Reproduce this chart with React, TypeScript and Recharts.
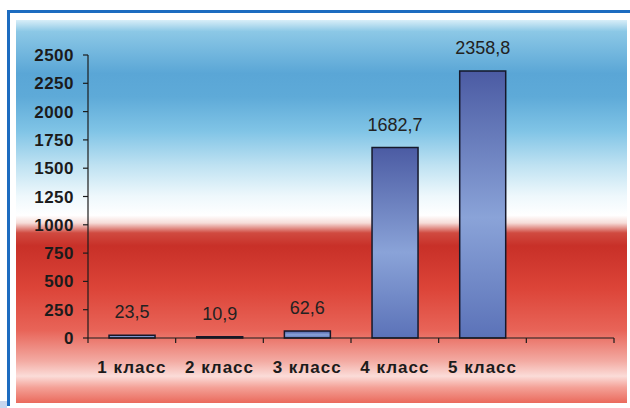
import { BarChart, Bar, XAxis, YAxis, LabelList } from 'recharts';

const categories = ['1 класс', '2 класс', '3 класс', '4 класс', '5 класс', ''];
const values: (number | null)[] = [23.5, 10.9, 62.6, 1682.7, 2358.8, null];
const yTicks = [0, 250, 500, 750, 1000, 1250, 1500, 1750, 2000, 2250, 2500];

const data = categories.map((name, i) => ({ name, value: values[i] }));

const FONT = '"Liberation Sans", Arial, sans-serif';
const INK = '#1b1b1b';

// panel backdrop: blue sky fading to white, then a red band
const PANEL_BG =
  'linear-gradient(to bottom, #d8eef8 0%, #8cc8e6 3%, #5aa6d6 14%, #5eaad8 20%, #80c4e6 29%, #bfe2f2 38%, #eef8fc 46%, #ffffff 51%, #f6dcd8 53%, #d04a40 55.6%, #c83028 59%, #dc4438 70%, #e86458 81%, #f3aaa2 89%, #fbdcd8 93%, #f4a096 96%, #ea6a5c 100%)';

function fmt(v: unknown) {
  if (v == null) return '';
  return String(v).replace('.', ',');
}

function CategoryTick(props: any) {
  const { x, y, payload, index } = props;
  const half = payload?.offset ?? 43.8;
  const last = index === categories.length - 1;
  return (
    <g>
      <line x1={x - half} y1={y} x2={x - half} y2={y + 5} stroke={INK} strokeWidth={1.2} />
      {last && <line x1={x + half} y1={y} x2={x + half} y2={y + 5} stroke={INK} strokeWidth={1.2} />}
      <text
        x={x}
        y={y + 35}
        textAnchor="middle"
        fontFamily={FONT}
        fontWeight="bold"
        fontSize={17}
        letterSpacing={1}
        fill={INK}
      >
        {payload.value}
      </text>
    </g>
  );
}

export default function App() {
  return (
    <div style={{ position: 'absolute', left: 0, top: 0, width: 630, height: 408, background: '#fff', overflow: 'hidden' }}>
      <div style={{ position: 'absolute', left: 7, top: 10, width: 640, height: 396, border: '3px solid #1d6cc0', borderRight: 'none', borderBottom: 'none', boxSizing: 'border-box' }} />
      <div style={{ position: 'absolute', left: 0, top: 401, width: 7, height: 7, background: '#c8d6ee' }} />
      <div style={{ position: 'absolute', left: 16, top: 20, width: 611, height: 383, background: PANEL_BG }} />
      <div style={{ position: 'absolute', left: 0, top: 0 }}>
        <BarChart
          width={630}
          height={408}
          data={data}
          margin={{ top: 55, right: 16, bottom: 40, left: 8 }}
          barCategoryGap="24%"
        >
          <defs>
            <linearGradient id="barFill" x1="0" y1="0" x2="0" y2="1">
              <stop offset="0%" stopColor="#4b5ba3" />
              <stop offset="55%" stopColor="#8aa3d8" />
              <stop offset="100%" stopColor="#5b72b8" />
            </linearGradient>
          </defs>
          <XAxis
            dataKey="name"
            axisLine={{ stroke: INK, strokeWidth: 1.2 }}
            tickLine={false}
            tickSize={0}
            tickMargin={0}
            height={30}
            interval={0}
            tick={<CategoryTick />}
          />
          <YAxis
            domain={[0, 2500]}
            ticks={yTicks}
            interval={0}
            width={80}
            axisLine={{ stroke: INK, strokeWidth: 1.2 }}
            tickLine={{ stroke: INK, strokeWidth: 1.2 }}
            tickSize={5}
            tickMargin={9}
            tick={{ fontFamily: FONT, fontWeight: 'bold', fontSize: 17, fill: INK, letterSpacing: 0.5 }}
          />
          <Bar dataKey="value" fill="url(#barFill)" stroke="#15182a" strokeWidth={1.5} isAnimationActive={false}>
            <LabelList
              dataKey="value"
              position="top"
              offset={17}
              formatter={fmt}
              style={{ fontFamily: FONT, fontSize: 18, fill: '#222' }}
            />
          </Bar>
        </BarChart>
      </div>
    </div>
  );
}
